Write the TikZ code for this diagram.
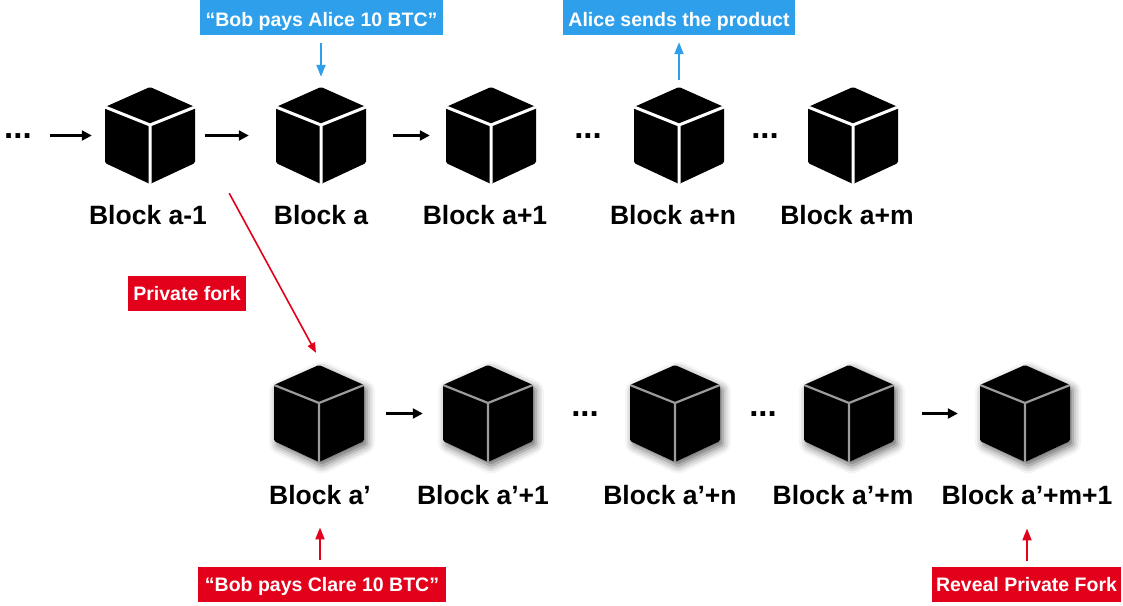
\documentclass[tikz,border=0pt]{standalone}
\usepackage{fontspec}
\setmainfont{Liberation Sans}
\usetikzlibrary{arrows.meta,shadows.blur}
\definecolor{myblue}{HTML}{2E9FEA}
\definecolor{myred}{HTML}{E2001A}
\definecolor{edgegray}{HTML}{9C9C9C}
\tikzset{
  topcube/.pic={
    \fill[black, rounded corners=1.5pt] (0,-48.5) -- (45,-28.5) -- (45,27.5) -- (0,48.5) -- (-45,27.5) -- (-45,-28.5) -- cycle;
    \begin{scope}
      \clip (0,-48.5) -- (45,-28.5) -- (45,27.5) -- (0,48.5) -- (-45,27.5) -- (-45,-28.5) -- cycle;
      \draw[white, line width=3pt] (-46,-28.9) -- (0,-10.5) -- (46,-28.9) (0,-10.5) -- (0,49);
    \end{scope}
    \node[inner sep=0, minimum width=90pt, minimum height=97pt] (-c) {};
  },
  botcube/.pic={
    \fill[black, rounded corners=1.5pt, blur shadow={shadow xshift=3pt, shadow yshift=-4pt, shadow blur radius=8pt, shadow opacity=60}] (0,-48.5) -- (45,-28.5) -- (45,27.5) -- (0,48.5) -- (-45,27.5) -- (-45,-28.5) -- cycle;
    \begin{scope}
      \clip (0,-48.5) -- (45,-28.5) -- (45,27.5) -- (0,48.5) -- (-45,27.5) -- (-45,-28.5) -- cycle;
      \draw[edgegray, line width=2.2pt] (-46,-28.9) -- (0,-10.5) -- (46,-28.9) (0,-10.5) -- (0,49);
    \end{scope}
    \node[inner sep=0, minimum width=90pt, minimum height=97pt] (-c) {};
  },
  blabel/.style={anchor=base, inner sep=0, font=\fontsize{26.5}{30}\selectfont\bfseries},
  dotsnode/.style={anchor=base, inner sep=0, font=\fontsize{33}{36}\selectfont\bfseries},
  bluebox/.style={anchor=base, fill=myblue, text=white, inner xsep=0, inner ysep=0,
    minimum height=35pt, text height=23pt, text depth=4pt, font=\fontsize{19.5}{22}\selectfont\bfseries},
  redbox/.style={anchor=base, fill=myred, text=white, inner xsep=0, inner ysep=0,
    minimum height=35pt, text height=16.5pt, text depth=4pt, font=\fontsize{19.5}{22}\selectfont\bfseries},
  arr/.style={-{Triangle[length=10pt,width=10pt]}, line width=2.2pt, black},
  barr/.style={-{Triangle[length=12pt,width=9pt]}, line width=2pt, myblue},
  rarr/.style={-{Triangle[length=12pt,width=9pt]}, line width=2pt, myred},
  farr/.style={-{Triangle[length=10pt,width=8pt]}, line width=1.6pt, myred},
}
\begin{document}
\begin{tikzpicture}[x=1pt, y=-1pt]
\useasboundingbox (0,0) rectangle (1123,605);

% top row cubes
\pic (t1) at (150,135.5) {topcube};
\pic (t2) at (321,135.5) {topcube};
\pic (t3) at (491,135.5) {topcube};
\pic (t4) at (679,135.5) {topcube};
\pic (t5) at (853,135.5) {topcube};

% bottom row cubes
\pic (b1) at (319,413.5) {botcube};
\pic (b2) at (488,413.5) {botcube};
\pic (b3) at (675,413.5) {botcube};
\pic (b4) at (849,413.5) {botcube};
\pic (b5) at (1025,413.5) {botcube};

% dots
\node[dotsnode] (d0) at (18,138.5) {...};
\node[dotsnode] (d1) at (588,138.5) {...};
\node[dotsnode] (d2) at (765,138.5) {...};
\node[dotsnode] (d3) at (585,416.5) {...};
\node[dotsnode] (d4) at (763,416.5) {...};

% labels
\node[blabel] (lt1) at (148,224) {Block a-1};
\node[blabel] (lt2) at (321,224) {Block a};
\node[blabel] (lt3) at (485,224) {Block a+1};
\node[blabel] (lt4) at (673,224) {Block a+n};
\node[blabel] (lt5) at (847,224) {Block a+m};
\node[blabel] (lb1) at (320,504) {Block a’};
\node[blabel] (lb2) at (483,504) {Block a’+1};
\node[blabel] (lb3) at (670,504) {Block a’+n};
\node[blabel] (lb4) at (843,504) {Block a’+m};
\node[blabel] (lb5) at (1027,504) {Block a’+m+1};

% boxes
\node[bluebox, minimum width=243pt] (alice) at (321.5,27) {“Bob pays Alice 10 BTC”};
\node[bluebox, minimum width=232pt] (sends) at (679,27) {Alice sends the product};
\node[redbox, minimum width=118pt] (fork) at (187,300) {Private fork};
\node[redbox, minimum width=248pt] (clare) at (322,591) {“Bob pays Clare 10 BTC”};
\node[redbox, minimum width=189pt] (reveal) at (1026.5,591) {Reveal Private Fork};

% black chain arrows
\draw[arr, shorten <=18pt] (t1-c.west -| d0.east) -- ([xshift=-13pt]t1-c.west);
\draw[arr] ([xshift=10pt]t1-c.east) -- ([xshift=-27pt]t2-c.west);
\draw[arr] ([xshift=27pt]t2-c.east) -- ([xshift=-16pt]t3-c.west);
\draw[arr] ([xshift=22pt]b1-c.east) -- ([xshift=-20pt]b2-c.west);
\draw[arr] ([xshift=28pt]b4-c.east) -- ([xshift=-22pt]b5-c.west);

% blue arrows
\draw[barr, shorten <=8pt, shorten >=10pt] (t2-c.north |- alice.south) -- (t2-c.north);
\draw[barr, shorten <=7pt, shorten >=7pt] (t4-c.north) -- (t4-c.north |- sends.south);

% red arrows
\draw[farr] ([xshift=34pt,yshift=-9pt]t1-c.south east) -- ([xshift=-3pt,yshift=12pt]b1-c.north);
\draw[rarr, shorten <=7pt, shorten >=23pt] (clare.north -| lb1.south) -- (lb1.south);
\draw[rarr, shorten <=6pt, shorten >=24pt] (reveal.north -| lb5.south) -- (lb5.south);
\end{tikzpicture}
\end{document}
